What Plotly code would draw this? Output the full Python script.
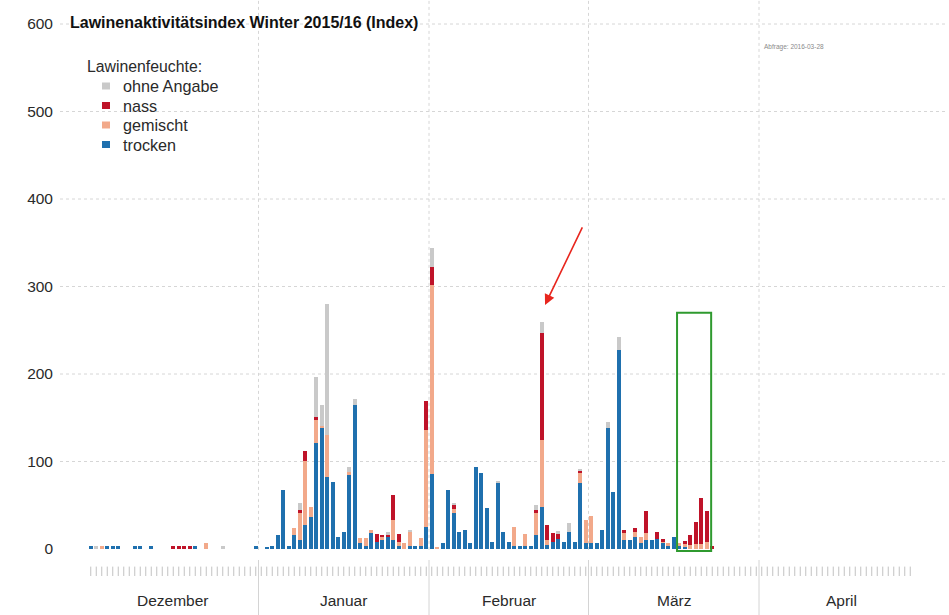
import pandas as pd
import plotly.graph_objects as go

# ---------------- data (index values per day) ----------------
start_date = "2015-12-01"
end_date = "2016-03-23"
rug_end_date = "2016-04-28"

month_names = ["Dezember", "Januar", "Februar", "März", "April"]
month_starts = ["2015-12-01", "2016-01-01", "2016-02-01", "2016-03-01", "2016-04-01", "2016-05-01"]
y_ticks = [0, 100, 200, 300, 400, 500, 600]

series_names = ["trocken", "gemischt", "nass", "ohne Angabe"]
series_colors = ["#1f70ae", "#f2a98a", "#bf1329", "#c9c9c9"]

trocken_dez = [4, 0, 0, 4, 4, 4, 0, 0, 4, 4, 0, 4, 0, 0, 0, 0, 0, 0, 0, 4, 0, 0, 0, 0, 0, 0, 0, 0, 0, 0, 4]
trocken_jan = [0, 2, 4, 16, 68, 3, 16, 10, 27, 37, 121, 138, 82, 77, 14, 20, 85, 165, 7, 4, 18, 8, 10, 14, 10, 3, 0, 3, 4, 4, 25]
trocken_feb = [86, 0, 7, 68, 41, 20, 22, 7, 94, 87, 47, 8, 75, 20, 8, 3, 4, 3, 3, 16, 48, 5, 8, 12, 8, 20, 8, 75, 7]
trocken_mar = [7, 7, 22, 138, 65, 227, 10, 10, 14, 7, 10, 10, 12, 7, 4, 14, 4, 2, 0, 0, 0, 0, 0]

gemischt_dez = [0, 0, 4, 0, 0, 0, 0, 0, 0, 0, 0, 0, 0, 0, 0, 0, 0, 0, 0, 0, 0, 7, 0, 0, 0, 0, 0, 0, 0, 0, 0]
gemischt_jan = [0, 0, 0, 0, 0, 0, 8, 31, 74, 11, 26, 3, 48, 0, 0, 0, 3, 0, 6, 9, 4, 0, 4, 0, 23, 5, 7, 16, 0, 9, 111]
gemischt_feb = [216, 2, 0, 0, 5, 0, 0, 0, 0, 0, 0, 0, 0, 0, 0, 22, 0, 14, 0, 25, 77, 5, 0, 0, 0, 0, 0, 12, 26]
gemischt_mar = [31, 0, 0, 0, 0, 0, 8, 0, 6, 7, 8, 0, 0, 2, 3, 0, 3, 4, 5, 6, 6, 8, 0]

nass_dez = [0, 0, 0, 0, 0, 0, 0, 0, 0, 0, 0, 0, 0, 0, 0, 4, 4, 4, 4, 0, 0, 0, 0, 0, 0, 0, 0, 0, 0, 0, 0]
nass_jan = [0, 0, 0, 0, 0, 0, 0, 4, 11, 0, 4, 0, 0, 0, 0, 0, 0, 0, 0, 0, 0, 9, 2, 3, 29, 9, 0, 0, 0, 0, 33]
nass_feb = [20, 0, 0, 0, 4, 0, 0, 0, 0, 0, 0, 0, 0, 0, 0, 0, 0, 0, 0, 4, 122, 18, 10, 5, 0, 0, 0, 3, 0]
nass_mar = [0, 0, 0, 0, 0, 0, 4, 0, 4, 0, 26, 0, 8, 2, 0, 0, 0, 3, 11, 25, 52, 35, 3]

ohne_dez = [0, 4, 0, 0, 0, 0, 0, 0, 0, 0, 0, 0, 0, 0, 0, 0, 0, 0, 0, 0, 0, 0, 0, 0, 3, 0, 0, 0, 0, 0, 0]
ohne_jan = [0, 0, 0, 0, 0, 0, 0, 8, 0, 0, 46, 24, 150, 0, 0, 0, 6, 7, 0, 0, 0, 0, 0, 2, 0, 0, 0, 3, 0, 0, 0]
ohne_feb = [22, 0, 0, 0, 3, 0, 0, 0, 0, 0, 0, 0, 3, 0, 0, 0, 0, 0, 0, 5, 12, 0, 0, 4, 0, 10, 0, 1, 0]
ohne_mar = [0, 0, 0, 7, 0, 15, 0, 0, 0, 0, 0, 0, 0, 0, 0, 0, 0, 0, 0, 0, 0, 0, 0]

title_text = "Lawinenaktivitätsindex Winter 2015/16 (Index)"
legend_title = "Lawinenfeuchte:"
query_text = "Abfrage: 2016-03-28"

# ---------------- build ----------------
t0 = pd.Timestamp(start_date)
dates = pd.date_range(start_date, end_date, freq="D")
day = [(d - t0).days for d in dates]

series_values = [
    trocken_dez + trocken_jan + trocken_feb + trocken_mar,
    gemischt_dez + gemischt_jan + gemischt_feb + gemischt_mar,
    nass_dez + nass_jan + nass_feb + nass_mar,
    ohne_dez + ohne_jan + ohne_feb + ohne_mar,
]

W, H = 949, 615
ML, MR, MT, MB = 60, 4, 0, 39
PW, PH = W - ML - MR, H - MT - MB
X0_PX, PX_PER_DAY = 90.75, 5.5      # centre of first day, pixel spacing
Y0_PX, PX_PER_UNIT = 549.0, 0.875    # pixel row of value 0, pixels per index unit
x_range = [(ML - X0_PX) / PX_PER_DAY, (ML + PW - X0_PX) / PX_PER_DAY]
y_range = [(Y0_PX - (MT + PH)) / PX_PER_UNIT, (Y0_PX - MT) / PX_PER_UNIT]


def px_x(p):
    return (p - ML) / PW


def px_y(p):
    return (MT + PH - p) / PH


FONT = "Liberation Sans, Arial, sans-serif"

fig = go.Figure()
for name, color, vals in zip(series_names, series_colors, series_values):
    fig.add_trace(go.Bar(x=day, y=vals, name=name, marker=dict(color=color, line=dict(width=0)),
                         width=0.75, showlegend=False))

# rug of day ticks along the bottom
rug_days = list(range(0, (pd.Timestamp(rug_end_date) - t0).days + 1))
rug_y = (Y0_PX - 571.5) / PX_PER_UNIT
fig.add_trace(go.Scatter(x=rug_days, y=[rug_y] * len(rug_days), mode="markers",
                         marker=dict(symbol="line-ns", size=7, line=dict(width=1, color="#c2c2c2")),
                         showlegend=False, hoverinfo="skip"))

shapes = []
# horizontal dashed grid
for v in y_ticks[1:]:
    shapes.append(dict(type="line", xref="paper", yref="y", x0=0, x1=1, y0=v, y1=v, layer="below",
                       line=dict(color="#d6d6d6", width=1, dash="3px,3px")))
# month boundaries
bounds = [(pd.Timestamp(m) - t0).days - 0.5 for m in month_starts]
for b in bounds[1:-1]:
    shapes.append(dict(type="line", xref="x", yref="y", x0=b, x1=b, y0=-1, y1=y_range[1], layer="below",
                       line=dict(color="#d6d6d6", width=1, dash="3px,3px")))
    shapes.append(dict(type="line", xref="x", yref="paper", x0=b, x1=b, y0=px_y(560), y1=px_y(615),
                       layer="below", line=dict(color="#d4d4d4", width=1)))

# green highlight box
shapes.append(dict(type="rect", xref="x", yref="y", x0=106.6, x1=112.8, y0=-2.3, y1=270,
                   line=dict(color="#2f9a2f", width=2), fillcolor="rgba(0,0,0,0)", layer="above"))

# manual legend squares
leg_rows = [86, 105.5, 125, 144.5]
leg_order = [3, 2, 1, 0]
annotations = []
for row, k in zip(leg_rows, leg_order):
    shapes.append(dict(type="rect", xref="paper", yref="paper", x0=px_x(102), x1=px_x(110),
                       y0=px_y(row + 3.5), y1=px_y(row - 3.5), line=dict(width=0),
                       fillcolor=series_colors[k]))
    annotations.append(dict(text=series_names[k], xref="paper", yref="paper", x=px_x(121), y=px_y(row),
                            xanchor="left", yanchor="middle", showarrow=False,
                            font=dict(family=FONT, size=16.2, color="#2a2a2a")))
annotations.append(dict(text=legend_title, xref="paper", yref="paper", x=px_x(85), y=px_y(67),
                        xanchor="left", yanchor="middle", showarrow=False,
                        font=dict(family=FONT, size=15.8, color="#2a2a2a")))

# month labels
for name, a, b in zip(month_names, bounds[:-1], bounds[1:]):
    annotations.append(dict(text=name, xref="x", yref="paper", x=(a + b) / 2, y=px_y(600),
                            xanchor="center", yanchor="middle", showarrow=False,
                            font=dict(family=FONT, size=15.5, color="#2a2a2a")))

# query date text
annotations.append(dict(text=query_text, xref="paper", yref="paper", x=px_x(762), y=px_y(47),
                        xanchor="left", yanchor="middle", showarrow=False,
                        font=dict(family=FONT, size=6.5, color="#8a8a8a")))

# red arrow
annotations.append(dict(text="", x=82.6, y=279, xref="x", yref="y", ax=38, ay=-79, showarrow=True,
                        arrowhead=2, arrowsize=1.3, arrowwidth=1.6, arrowcolor="#e8261e"))

fig.update_layout(
    width=W, height=H, margin=dict(l=ML, r=MR, t=MT, b=MB),
    paper_bgcolor="white", plot_bgcolor="white",
    barmode="stack", bargap=0, showlegend=False,
    font=dict(family=FONT),
    title=dict(text="<b>" + title_text + "</b>", x=70 / W, xanchor="left", y=1 - 22 / H, yanchor="middle",
               font=dict(family=FONT, size=16, color="#111111")),
    xaxis=dict(range=x_range, showgrid=False, zeroline=False, showticklabels=False, ticks="",
               showline=False, fixedrange=True),
    yaxis=dict(range=y_range, tickvals=y_ticks, showgrid=False, zeroline=False, ticks="",
               showline=False, tickfont=dict(family=FONT, size=15.5, color="#2a2a2a"),
               ticklabelstandoff=6, fixedrange=True),
    shapes=shapes, annotations=annotations,
)

fig.write_html("out.html", config={"displayModeBar": False},
               post_script="document.body.style.margin='0';document.body.style.overflow='hidden';")
